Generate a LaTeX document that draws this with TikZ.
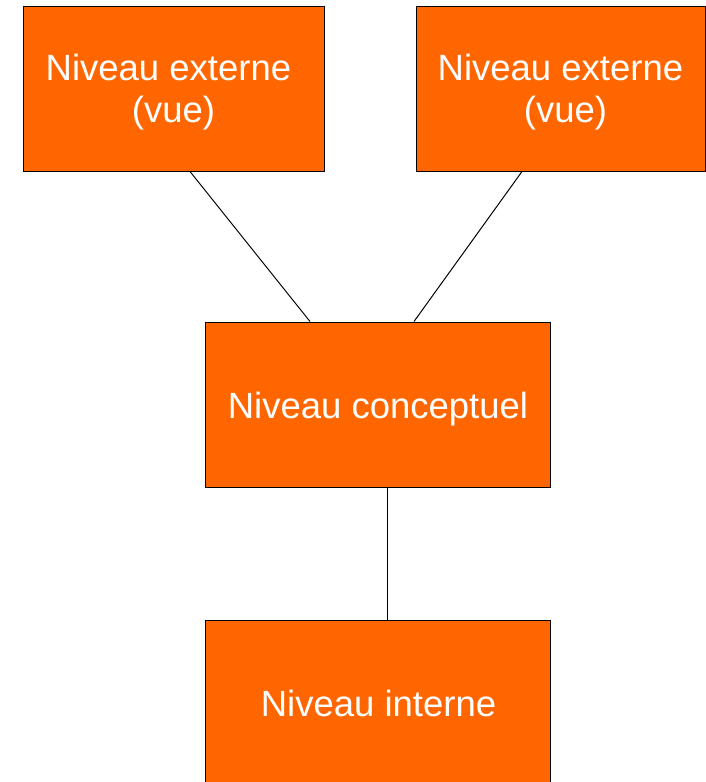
\documentclass[tikz,border=0pt]{standalone}
\usepackage{fontspec}
\usepackage{xcolor}
\newfontfamily\boxfont{Liberation Sans}
\definecolor{niveauorange}{RGB}{255,102,0}
\tikzset{
  niveau/.style={draw=black, line width=1pt, fill=niveauorange,
    inner sep=0pt, minimum height=165pt},
  niveautexte/.style={text=white, align=center, inner sep=0pt,
    font=\boxfont\fontsize{36.5}{41.5}\selectfont},
  lien/.style={draw=black, line width=1pt}
}

\begin{document}
\begin{tikzpicture}[x=1pt,y=1pt,yscale=-1,xscale=1]
\useasboundingbox (0,0) rectangle (706,782);

% Boxes
\node [niveau, minimum width=301pt] (ext1) at (173.5,88.5) {};
\node [niveau, minimum width=289pt] (ext2) at (560.5,88.5) {};
\node [niveau, minimum width=345pt] (conc) at (377.5,404.5) {};
\node [niveau, minimum width=345pt] (int) at (377.5,702.5) {};

% Text Nodes
\node [niveautexte] (ext1txt) at (173.5,92.3) {Niveau externe\ \mbox{}\\(vue)};
\node [niveautexte] (ext2txt) at (565.5,92.3) {Niveau externe\ \mbox{}\\(vue)};
\node [niveautexte] (conctxt) at (378,408.8) {Niveau conceptuel};
\node [niveautexte] (inttxt) at (378.5,703) {Niveau interne};

% Links
\draw [lien] ([xshift=16.5pt]ext1.south) -- ([xshift=-67.5pt]conc.north);
\draw [lien] ([xshift=-38.5pt]ext2.south) -- ([xshift=36.5pt]conc.north);
\draw [lien] ([xshift=9.5pt]conc.south) -- ([xshift=9.5pt]int.north);

\end{tikzpicture}
\end{document}
